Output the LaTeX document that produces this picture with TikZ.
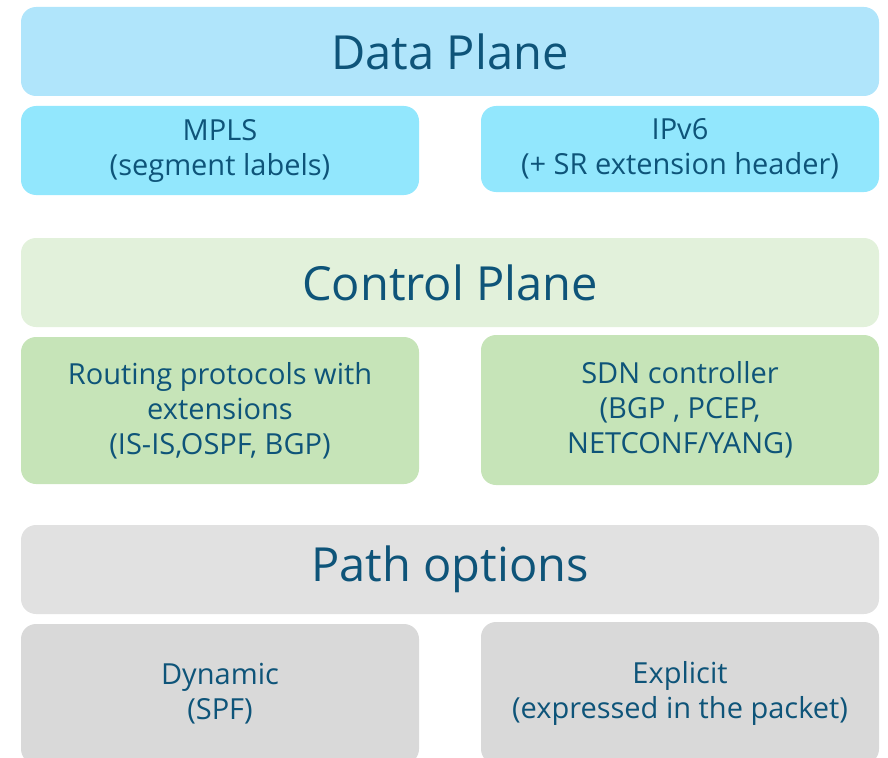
\documentclass[tikz,border=0pt]{standalone}
\usepackage{fontspec}
\setmainfont{Open Sans}
\definecolor{ink}{HTML}{0E5479}
\definecolor{dataHead}{HTML}{B0E5FB}
\definecolor{dataItem}{HTML}{92E7FD}
\definecolor{ctrlHead}{HTML}{E2F1DB}
\definecolor{ctrlItem}{HTML}{C6E4B8}
\definecolor{pathHead}{HTML}{E1E1E1}
\definecolor{pathItem}{HTML}{D9D9D9}
\tikzset{
  panel/.style={rounded corners=15pt, inner sep=0pt, align=center, text=ink},
  header/.style={panel, minimum width=858pt, minimum height=89pt,
    font=\fontsize{47}{52}\selectfont},
  item/.style={panel, minimum width=398pt,
    font=\fontsize{29}{35}\selectfont},
}
\begin{document}
\begin{tikzpicture}[x=1pt,y=-1pt]
\useasboundingbox (0,0) rectangle (888,757);
% data plane
\node[header, fill=dataHead] (data) at (450,51.5) {Data Plane};
\node[item, fill=dataItem, minimum height=89pt] (mpls) at (220,150.5) {MPLS\\(segment labels)};
\node[item, fill=dataItem, minimum height=86pt] (ipv6) at (680,149) {IPv6\\(+ SR extension header)};
% control plane
\node[header, fill=ctrlHead] (ctrl) at (450,282.5) {Control Plane};
\node[item, fill=ctrlItem, minimum height=147pt] (igp) at (220,410.5) {Routing protocols with\\extensions\\(IS-IS,OSPF, BGP)};
\node[item, fill=ctrlItem, minimum height=150pt] (sdn) at (680,410) {SDN controller\\(BGP , PCEP,\\NETCONF/YANG)};
% path options
\node[header, fill=pathHead] (path) at (450,569.5) {Path options};
\node[item, fill=pathItem, minimum height=140pt] (dyn) at (220,694) {Dynamic\\(SPF)};
\node[item, fill=pathItem, minimum height=142pt] (expl) at (680,693) {Explicit\\(expressed in the packet)};
\end{tikzpicture}
\end{document}
